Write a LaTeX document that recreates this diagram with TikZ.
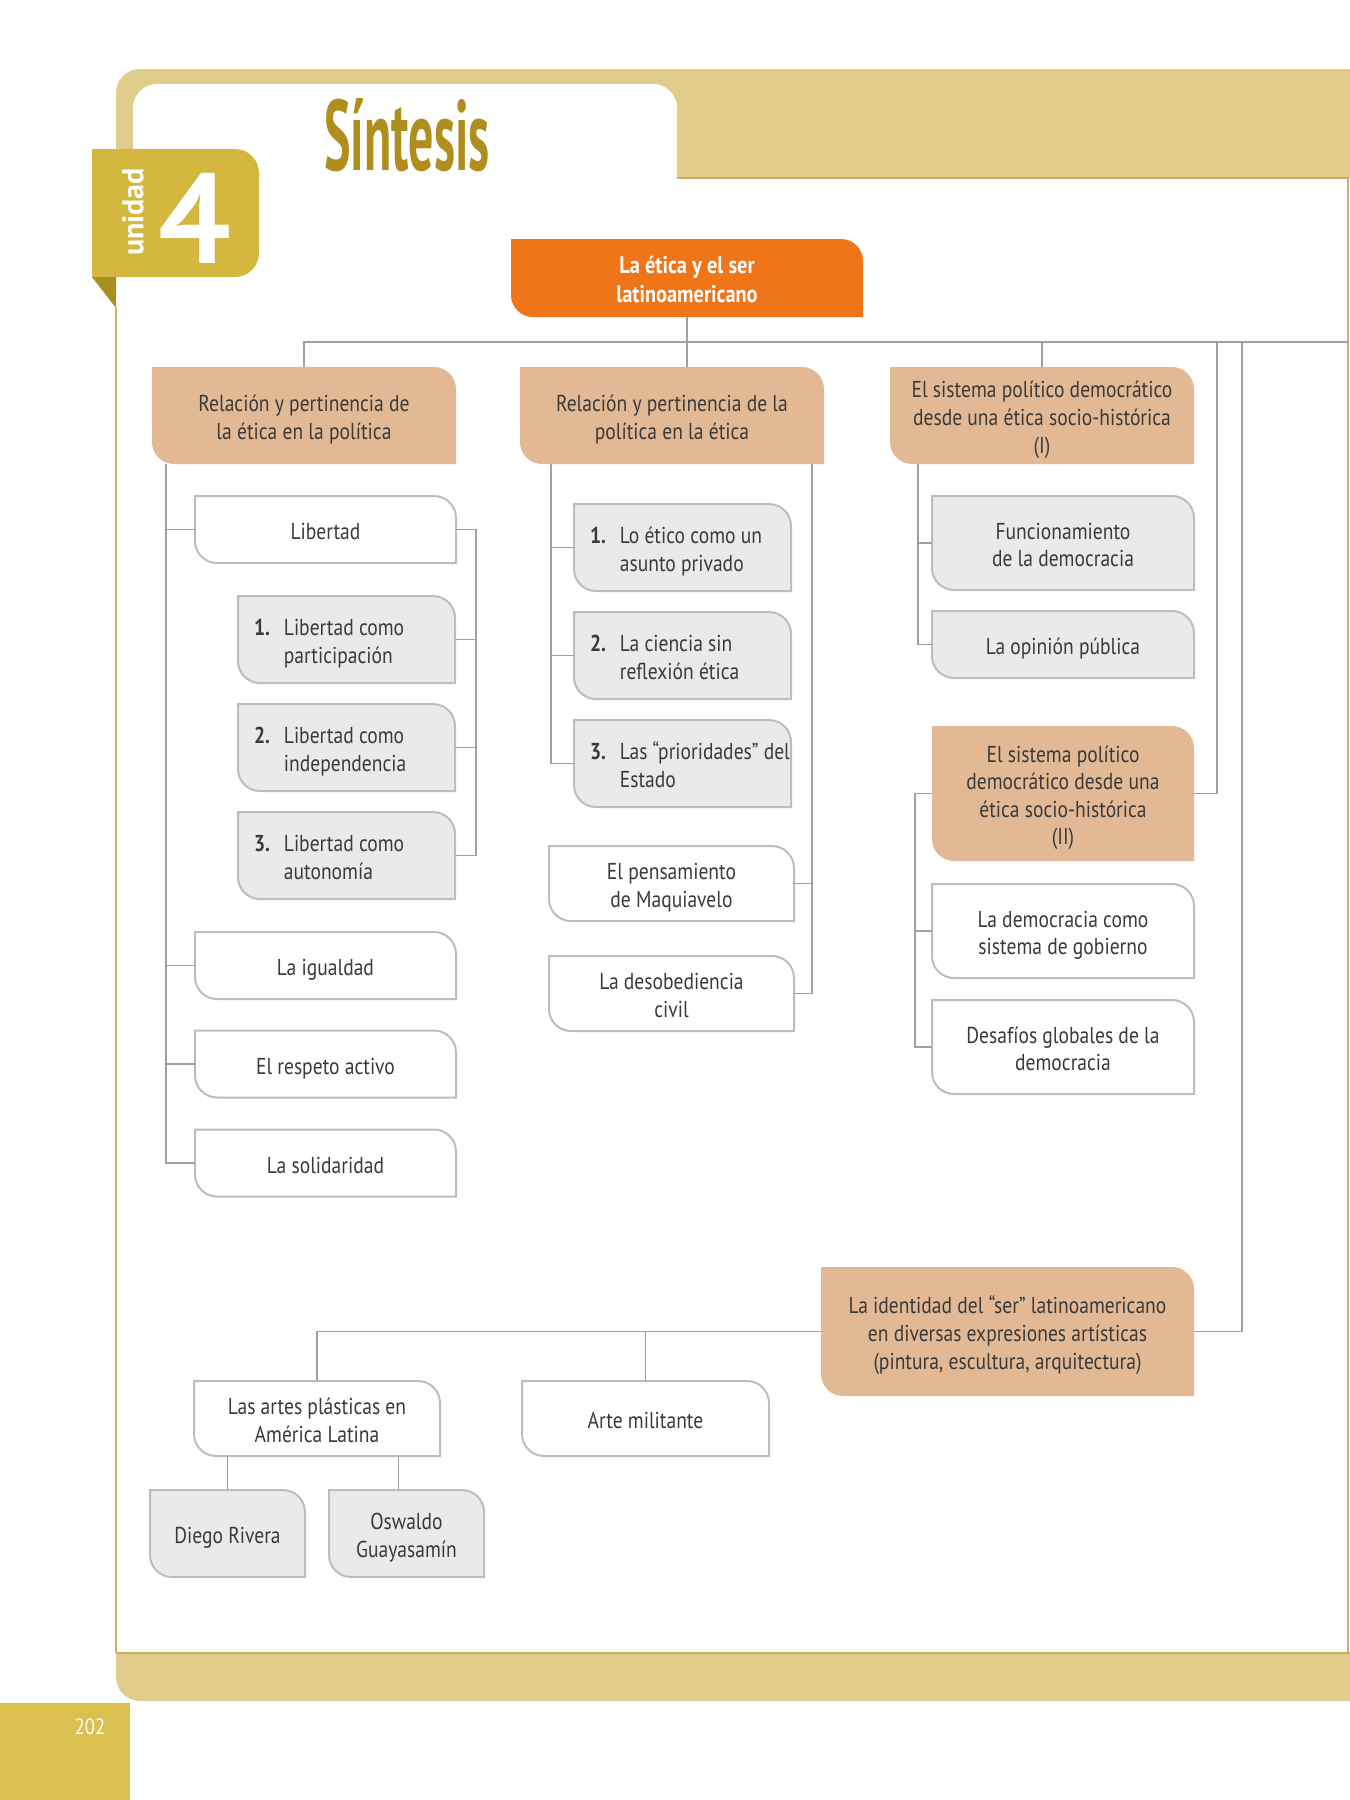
\documentclass[tikz,border=0pt]{standalone}
\usepackage{fontspec}
\setmainfont{PT Sans}
\newfontfamily\bodyfont[FakeStretch=0.85]{PT Sans}
\newfontfamily\titlefont[FakeStretch=0.5]{PT Sans}
\newcommand\bodysize{\fontsize{11.5}{13.8}\selectfont}
\newcommand\topstrut{\rule{0pt}{13pt}}
\newcommand\botstrut{\rule[-3pt]{0pt}{3pt}}
\newcommand\leafr{11pt}
\newcommand\numitem[3]{\mbox{\textbf{#1}\hspace{7pt}#2}\\\mbox{\hphantom{\textbf{#1}\hspace{7pt}}#3}}
% leaf box: rounded top right and bottom left
\newcommand\leafbox[2]{\path[#1] (#2.north west) -- ([xshift=-\leafr]#2.north east)
	arc[start angle=90,end angle=0,radius=\leafr] -- (#2.south east)
	-- ([xshift=\leafr]#2.south west) arc[start angle=270,end angle=180,radius=\leafr] -- cycle;}
\definecolor{frametan}{HTML}{E0CC8B}
\definecolor{frameline}{HTML}{C6AE62}
\definecolor{tabgold}{HTML}{D4B73F}
\definecolor{folddark}{HTML}{A98F20}
\definecolor{pagegold}{HTML}{DBC050}
\definecolor{titlegold}{HTML}{B08E1E}
\definecolor{boxorange}{HTML}{F07418}
\definecolor{boxtan}{HTML}{E2B994}
\definecolor{boxgray}{HTML}{EAEAEA}
\definecolor{boxline}{HTML}{BDBDBD}
\definecolor{linegray}{HTML}{A0A0A0}
\definecolor{inktxt}{HTML}{3A3A3A}
\pgfdeclarelayer{frame}
\pgfdeclarelayer{boxes}
\pgfsetlayers{frame,boxes,main}
\tikzset{
	lbl/.style={font=\bodyfont\bodysize, text=inktxt, align=flush center, inner sep=0pt, outer sep=0pt,
		execute at begin node=\topstrut, execute at end node=\botstrut},
	toplbl/.style={lbl, font=\bodyfont\bfseries\fontsize{12}{14.4}\selectfont, text=white},
	sz/.style 2 args={minimum width=#1, minimum height=#2, text width=#1},
	numlbl/.style={align=flush left, text width=92.5pt, inner xsep=8pt},
	link/.style={draw=linegray, line width=0.8pt},
	orangebox/.style={fill=boxorange},
	tanbox/.style={fill=boxtan},
	graybox/.style={fill=boxgray, draw=boxline, line width=1pt},
	whitebox/.style={fill=white, draw=boxline, line width=1pt}
}
\begin{document}
\begin{tikzpicture}[x=0.5pt,y=-0.5pt]
				\useasboundingbox (0,0) rectangle (1350,1800);
				
				% Page frame
				\begin{pgfonlayer}{frame}
				\fill[frametan] (116,178) -- (116,93) arc[start angle=180,end angle=90,radius=12pt] -- (1350,69) -- (1350,178) -- cycle;
				\fill[white] (133,178) -- (133,108) arc[start angle=180,end angle=90,radius=12pt]
				-- (653,84) arc[start angle=90,end angle=0,radius=12pt] -- (677,178) -- cycle;
				\draw[frameline, line width=1pt] (677,178) -- (1348,178) -- (1348,1653);
				\draw[frameline, line width=0.8pt] (116,308) -- (116,1653);
				\fill[frametan] (116,1653) -- (1350,1653) -- (1350,1701) -- (140,1701) arc[start angle=270,end angle=180,radius=12pt] -- cycle;
				\draw[frameline, line width=1pt] (116,1653) -- (1350,1653);
				\fill[pagegold] (0,1703) rectangle (130,1800);
				\fill[tabgold] (92,149) -- (235,149) arc[start angle=90,end angle=0,radius=12pt]
				-- (259,253) arc[start angle=0,end angle=-90,radius=12pt] -- (92,277) -- cycle;
				\fill[folddark] (92,277) -- (116,277) -- (116,308) -- cycle;
				\end{pgfonlayer}
				
				% Heading
				\node[rotate=90, text=white, font=\bfseries\fontsize{15}{15}\selectfont] (unid) at (133,212) {unidad};
				\node[text=white, font=\bfseries\fontsize{64}{64}\selectfont] (num) at (195,218) {4};
				\node[anchor=base, text=titlegold, font=\titlefont\bfseries\fontsize{50}{50}\selectfont] (title) at (407,170) {Síntesis};
				\node[text=white, font=\bodyfont\fontsize{11}{11}\selectfont] (page) at (90,1727) {202};
				
				% Top and first level
				\node[toplbl, sz={176pt}{39pt}] (top) at (687,278) {La ética y el ser\\latinoamericano};
				\node[lbl, sz={152pt}{48.5pt}] (relA) at (304,415.5) {Relación y pertinencia de\\la ética en la política};
				\node[lbl, sz={152pt}{48.5pt}] (relB) at (672,415.5) {Relación y pertinencia de la\\política en la ética};
				\node[lbl, sz={152pt}{48.5pt}] (sisI) at (1042,415.5) {El sistema político democrático\\desde una ética socio-histórica\\(I)};
				
				% Column 1
				\node[lbl, sz={130.5pt}{33.5pt}] (lib) at (325.5,529.5) {Libertad};
				\node[lbl, sz={108.5pt}{43.5pt}, numlbl] (lib1) at (346.5,639.5) {\numitem{1.}{Libertad como}{participación}};
				\node[lbl, sz={108.5pt}{43.5pt}, numlbl] (lib2) at (346.5,747.5) {\numitem{2.}{Libertad como}{independencia}};
				\node[lbl, sz={108.5pt}{43.5pt}, numlbl] (lib3) at (346.5,855.5) {\numitem{3.}{Libertad como}{autonomía}};
				\node[lbl, sz={130.5pt}{33.5pt}] (igu) at (325.5,965.5) {La igualdad};
				\node[lbl, sz={130.5pt}{33.5pt}] (res) at (325.5,1064) {El respeto activo};
				\node[lbl, sz={130.5pt}{33.5pt}] (sol) at (325.5,1163) {La solidaridad};
				
				% Column 2
				\node[lbl, sz={108.5pt}{43.5pt}, numlbl] (eti1) at (682.5,547.5) {\numitem{1.}{Lo ético como un}{asunto privado}};
				\node[lbl, sz={108.5pt}{43.5pt}, numlbl] (eti2) at (682.5,655.5) {\numitem{2.}{La ciencia sin}{reflexión ética}};
				\node[lbl, sz={108.5pt}{43.5pt}, numlbl] (eti3) at (682.5,763.5) {\numitem{3.}{Las “prioridades” del}{Estado}};
				\node[lbl, sz={122.5pt}{37.5pt}] (maq) at (671.5,883.5) {El pensamiento\\de Maquiavelo};
				\node[lbl, sz={122.5pt}{37.5pt}] (deso) at (671.5,993.5) {La desobediencia\\civil};
				
				% Column 3
				\node[lbl, sz={131pt}{47pt}] (fun) at (1063,543) {Funcionamiento\\de la democracia};
				\node[lbl, sz={131pt}{33.5pt}] (opi) at (1063,644.5) {La opinión pública};
				\node[lbl, sz={131pt}{67.5pt}] (sisII) at (1063,793.5) {El sistema político\\democrático desde una\\ética socio-histórica\\(II)};
				\node[lbl, sz={131pt}{47pt}] (demo) at (1063,931) {La democracia como\\sistema de gobierno};
				\node[lbl, sz={131pt}{47pt}] (desa) at (1063,1047) {Desafíos globales de la\\democracia};
				
				% Bottom branch
				\node[lbl, sz={186.5pt}{64.5pt}] (iden) at (1007.5,1331.5) {La identidad del “ser” latinoamericano\\en diversas expresiones artísticas\\(pintura, escultura, arquitectura)};
				\node[lbl, sz={123pt}{37.5pt}] (artes) at (317,1418.5) {Las artes plásticas en\\América Latina};
				\node[lbl, sz={123.5pt}{37.5pt}] (mil) at (645.5,1418.5) {Arte militante};
				\node[lbl, sz={77.5pt}{43.5pt}] (rivera) at (227.5,1533.5) {Diego Rivera};
				\node[lbl, sz={77.5pt}{43.5pt}] (guaya) at (406.5,1533.5) {Oswaldo\\Guayasamín};
				
				% Box shapes
				\begin{pgfonlayer}{boxes}
				\leafbox{orangebox}{top}
				\foreach \n in {relA,relB,sisI,sisII,iden} \leafbox{tanbox}{\n};
				\foreach \n in {lib1,lib2,lib3,eti1,eti2,eti3,fun,opi,rivera,guaya} \leafbox{graybox}{\n};
				\foreach \n in {lib,igu,res,sol,maq,deso,demo,desa,artes,mil} \leafbox{whitebox}{\n};
				\end{pgfonlayer}
				
				% Bus
				\coordinate (busR) at (1348,342);
				\coordinate (railA) at (1217,342);
				\coordinate (railB) at (1242,342);
				\draw[link] (relA.north) |- (busR);
				\draw[link] (top.south) -- (top.south |- relB.north);
				\draw[link] (sisI.north) -- (sisI.north |- busR);
				\draw[link] (railA) |- (sisII.east);
				\draw[link] (railB) |- (iden.east);
				
				% Column 1 links
				\coordinate (c1) at ([xshift=7pt]relA.south west);
				\draw[link] (c1) |- (sol.west);
				\foreach \n in {lib,igu,res} \draw[link] (c1 |- \n.west) -- (\n.west);
				\coordinate (b1) at ([xshift=10pt]lib.east);
				\draw[link] (lib.east) -- (b1) |- (lib3.east);
				\foreach \n in {lib1,lib2} \draw[link] (\n.east) -- (b1 |- \n.east);
				
				% Column 2 links
				\coordinate (c2) at ([xshift=15.5pt]relB.south west);
				\draw[link] (c2) |- (eti3.west);
				\foreach \n in {eti1,eti2} \draw[link] (c2 |- \n.west) -- (\n.west);
				\coordinate (c2r) at ([xshift=-6pt]relB.south east);
				\draw[link] (c2r) |- (deso.east);
				\draw[link] (maq.east) -- (maq.east -| c2r);
				
				% Column 3 links
				\coordinate (c3) at ([xshift=14pt]sisI.south west);
				\draw[link] (c3) |- (opi.west);
				\draw[link] (c3 |- fun.west) -- (fun.west);
				\coordinate (c4) at ([xshift=-8.5pt]sisII.west);
				\draw[link] (sisII.west) -- (c4) |- (desa.west);
				\draw[link] (c4 |- demo.west) -- (demo.west);
				
				% Bottom links
				\draw[link] (iden.west) -| (artes.north);
				\draw[link] (mil.north) -- (mil.north |- iden.west);
				\draw[link] (rivera.north) -- (rivera.north |- artes.south);
				\coordinate (g1) at ([xshift=-4pt]guaya.north);
				\draw[link] (g1) -- (g1 |- artes.south);
			\end{tikzpicture}
\end{document}
